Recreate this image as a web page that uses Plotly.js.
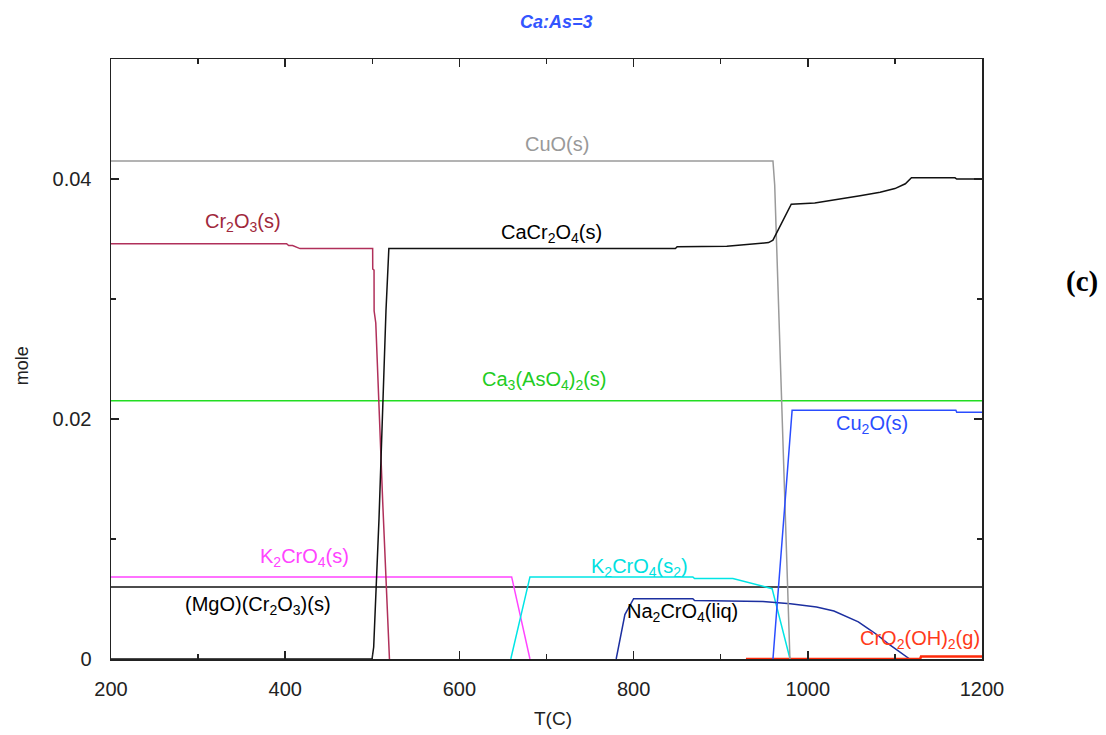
<!DOCTYPE html>
<html>
<head>
<meta charset="utf-8">
<script src="https://cdn.plot.ly/plotly-3.0.1.min.js"></script>
<style>html,body{margin:0;padding:0;background:#fff;}#chart{width:1106px;height:735px;}</style>
</head>
<body>
<div id="chart"></div>
<script>
// ---- data (T in C, amount in mole) ----
const cuoT = [200, 960, 962, 979.5];
const cuoY = [0.0415, 0.0415, 0.0395, 0];

const cacr2o4T = [200, 499.7, 501.6, 505.4, 507.7, 515.7, 517.6, 519, 848, 850, 907, 930, 955, 960, 981, 1008, 1037, 1060, 1083, 1100, 1112, 1119, 1169, 1171, 1200];
const cacr2o4Y = [0, 0, 0.0010, 0.0080, 0.0117, 0.0290, 0.0324, 0.0342, 0.0342, 0.03435, 0.0344, 0.03455, 0.0347, 0.0349, 0.0379, 0.0380, 0.0383, 0.0386, 0.0389, 0.0392, 0.0396, 0.0401, 0.0401, 0.0400, 0.0400];

const cr2o3T = [200, 401.6, 404, 408.5, 417, 500.4, 500.5, 502, 502.1, 504, 512, 518, 519.7];
const cr2o3Y = [0.0346, 0.0346, 0.03445, 0.03445, 0.0342, 0.0342, 0.0325, 0.0324, 0.029, 0.028, 0.013, 0.003, 0];

const ca3aso4T = [200, 1200];
const ca3aso4Y = [0.02153, 0.02153];

const cu2oT = [960, 982, 1170, 1171, 1200];
const cu2oY = [0, 0.02073, 0.02073, 0.02056, 0.02056];

const k2cro4T = [200, 660, 681];
const k2cro4Y = [0.00684, 0.00684, 0];

const mgocr2o3T = [200, 1200];
const mgocr2o3Y = [0.0060, 0.0060];

const k2cro4s2T = [659, 681, 868, 870, 914, 948.5, 959, 979.6];
const k2cro4s2Y = [0, 0.00684, 0.00684, 0.0067, 0.0067, 0.0061, 0.00586, 0];

const na2cro4T = [780, 790, 800, 868, 870, 948.5, 980, 1010, 1030, 1045, 1058, 1068, 1080, 1091, 1104, 1117];
const na2cro4Y = [0, 0.0037, 0.00502, 0.00502, 0.00488, 0.0048, 0.0046, 0.00433, 0.0040, 0.00354, 0.0031, 0.00259, 0.0020, 0.00134, 0.0007, 0];

const cro2oh2T = [929, 1129, 1130, 1200];
const cro2oh2Y = [0, 0, 0.0002, 0.0002];

const xTickVals = [200, 400, 600, 800, 1000, 1200];
const yTickVals = [0, 0.02, 0.04];
const yTickText = ['0', '0.02', '0.04'];

// curve labels
const labelText = ['CuO(s)', 'CaCr<sub>2</sub>O<sub>4</sub>(s)', 'Cr<sub>2</sub>O<sub>3</sub>(s)', 'Ca<sub>3</sub>(AsO<sub>4</sub>)<sub>2</sub>(s)', 'Cu<sub>2</sub>O(s)', 'K<sub>2</sub>CrO<sub>4</sub>(s)', '(MgO)(Cr<sub>2</sub>O<sub>3</sub>)(s)', 'K<sub>2</sub>CrO<sub>4</sub>(s<sub>2</sub>)', 'Na<sub>2</sub>CrO<sub>4</sub>(liq)', 'CrO<sub>2</sub>(OH)<sub>2</sub>(g)'];
const labelT = [712, 706, 351.5, 698, 1073.7, 422.7, 368.8, 807, 856.7, 1128.8];
const labelY = [0.04293, 0.03548, 0.0364, 0.02318, 0.01958, 0.00845, 0.00444, 0.00762, 0.00385, 0.00159];
const labelColor = ['#999999', '#000000', '#a0283c', '#22cc22', '#2a4dff', '#ff44ff', '#000000', '#00e0e0', '#000000', '#ff3a1a'];

const font = 'Liberation Sans, Arial, sans-serif';

function line(x, y, color, w) {
  return {x: x, y: y, type: 'scatter', mode: 'lines', line: {color: color, width: w || 1.5}, hoverinfo: 'skip', showlegend: false};
}

const traces = [
  line(ca3aso4T, ca3aso4Y, '#22dd22'),
  line(mgocr2o3T, mgocr2o3Y, '#111111'),
  line(k2cro4T, k2cro4Y, '#ff44ff'),
  line(k2cro4s2T, k2cro4s2Y, '#00e5e5'),
  line(na2cro4T, na2cro4Y, '#1c2fa0'),
  line(cro2oh2T, cro2oh2Y, '#ff2a0a', 2.5),
  line(cuoT, cuoY, '#9a9a9a'),
  line(cu2oT, cu2oY, '#2a4dff'),
  line(cr2o3T, cr2o3Y, '#b0305a'),
  line(cacr2o4T, cacr2o4Y, '#111111'),
];

const annotations = labelText.map((t, i) => ({
  x: labelT[i], y: labelY[i], xref: 'x', yref: 'y', text: t, showarrow: false,
  font: {family: font, size: 20, color: labelColor[i]}, xanchor: 'center', yanchor: 'middle'
}));
annotations.push({xref: 'paper', yref: 'paper', x: 0.5, y: 1, xshift: 10, yshift: 37, text: '<b><i>Ca:As=3</i></b>', showarrow: false,
  font: {family: font, size: 18, color: '#3355ff'}, xanchor: 'center', yanchor: 'middle'});
annotations.push({xref: 'paper', yref: 'paper', x: 1, xshift: 100, y: 0.63, text: '<b>(c)</b>', showarrow: false,
  font: {family: 'Liberation Serif, Times New Roman, serif', size: 29, color: '#000'}, xanchor: 'center', yanchor: 'middle'});
annotations.push({xref: 'paper', yref: 'paper', x: 0.5, xshift: 6, y: 0, yshift: -59, text: 'T(C)', showarrow: false,
  font: {family: font, size: 19, color: '#222'}, xanchor: 'center', yanchor: 'middle'});
annotations.push({xref: 'paper', yref: 'paper', x: 0, xshift: -89, y: 0.488, text: 'mole', textangle: -90, showarrow: false,
  font: {family: font, size: 18, color: '#222'}, xanchor: 'center', yanchor: 'middle'});

const axisCommon = {
  showgrid: false, zeroline: false, showline: true, linecolor: '#222', linewidth: 1.5,
  mirror: 'ticks', ticks: 'inside', ticklen: 8, tickwidth: 1.5, tickcolor: '#222',
  tickfont: {family: font, size: 20, color: '#222'}
};

const layout = {
  width: 1106, height: 735,
  margin: {l: 111, r: 124, t: 59, b: 76, pad: 0},
  paper_bgcolor: '#fff', plot_bgcolor: '#fff',
  xaxis: Object.assign({}, axisCommon, {
    range: [200, 1200], tickmode: 'array', tickvals: xTickVals,
    minor: {ticks: 'inside', dtick: 100, tick0: 200, ticklen: 5, tickwidth: 1.5, tickcolor: '#222'},
    ticklabelstandoff: 11
  }),
  yaxis: Object.assign({}, axisCommon, {
    range: [0, 0.05], tickmode: 'array', tickvals: yTickVals, ticktext: yTickText,
    minor: {ticks: 'inside', dtick: 0.01, tick0: 0, ticklen: 5, tickwidth: 1.5, tickcolor: '#222'},
    ticklabelstandoff: 14
  }),
  annotations: annotations,
  showlegend: false
};

Plotly.newPlot('chart', traces, layout, {displayModeBar: false, staticPlot: true});
</script>
</body>
</html>
